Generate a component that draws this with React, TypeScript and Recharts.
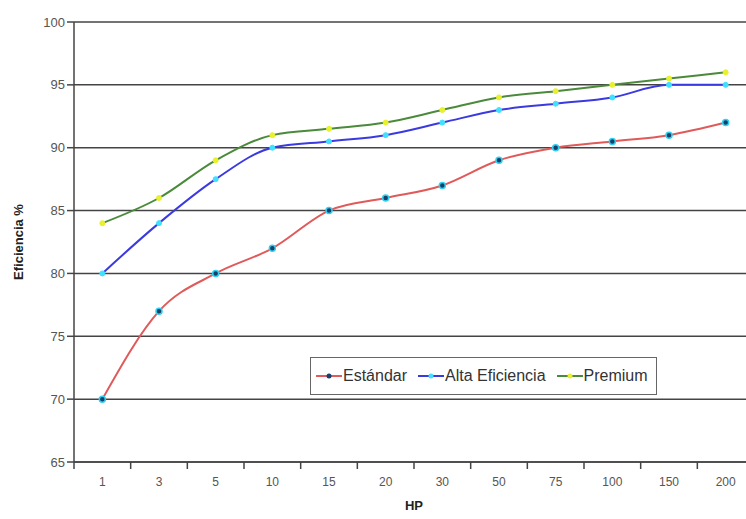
import { LineChart, Line, XAxis, YAxis, CartesianGrid, Label } from 'recharts'

const hp = ['1', '3', '5', '10', '15', '20', '30', '50', '75', '100', '150', '200']
const estandar = [70, 77, 80, 82, 85, 86, 87, 89, 90, 90.5, 91, 92]
const altaEficiencia = [80, 84, 87.5, 90, 90.5, 91, 92, 93, 93.5, 94, 95, 95]
const premium = [84, 86, 89, 91, 91.5, 92, 93, 94, 94.5, 95, 95.5, 96]
const yTicks = [65, 70, 75, 80, 85, 90, 95, 100]

const data = hp.map((h, i) => ({
  hp: h,
  estandar: estandar[i],
  alta: altaEficiencia[i],
  premium: premium[i],
}))

const CHART_W = 754
const PLOT_LEFT = 74
const STEP = (CHART_W - PLOT_LEFT) / hp.length
const FONT = 'Liberation Sans, Arial, sans-serif'

function XTick(props: any) {
  const { x, y, payload } = props
  return (
    <g>
      <line x1={x - STEP / 2} x2={x - STEP / 2} y1={y - 8} y2={y - 1} stroke="#444" strokeWidth={1.5} />
      <text x={x} y={y + 16} textAnchor="middle" fontSize={12} fill="#555" fontFamily={FONT}>
        {payload.value}
      </text>
    </g>
  )
}

const series = [
  { name: 'Estándar', color: '#e05a5a', dot: '#17406a', ring: '#30d0f0' },
  { name: 'Alta Eficiencia', color: '#3a3ae0', dot: '#40e0ff', ring: '#40e0ff' },
  { name: 'Premium', color: '#4a8a3a', dot: '#e8f030', ring: '#e8f030' },
]

function LegendBox() {
  return (
    <div
      style={{
        position: 'absolute',
        left: 310,
        top: 357,
        height: 38,
        boxSizing: 'border-box',
        display: 'flex',
        alignItems: 'center',
        gap: 11,
        background: '#fff',
        border: '1.5px solid #666',
        padding: '0 8px 0 5px',
        fontFamily: FONT,
        fontSize: 16,
        color: '#333',
      }}
    >
      {series.map((s) => (
        <span key={s.name} style={{ display: 'flex', alignItems: 'center' }}>
          <svg width={26} height={8}>
            <line x1={0} x2={26} y1={4} y2={4} stroke={s.color} strokeWidth={2} />
            <circle cx={13} cy={4} r={2.5} fill={s.dot} />
          </svg>
          <span style={{ marginLeft: 1 }}>{s.name}</span>
        </span>
      ))}
    </div>
  )
}

export default function App() {
  return (
    <div style={{ position: 'absolute', left: 0, top: 0, width: 746, height: 519, overflow: 'hidden', background: '#fff' }}>
      <LineChart width={CHART_W} height={519} data={data} margin={{ top: 22, right: 0, left: 30, bottom: 27 }}>
        <CartesianGrid vertical={false} stroke="#444" strokeWidth={1.5} />
        <XAxis
          dataKey="hp"
          scale="band"
          tick={<XTick />}
          tickLine={false}
          axisLine={{ stroke: '#444', strokeWidth: 1.5 }}
          height={30}
        >
          <Label value="HP" position="insideBottom" offset={-18} style={{ fontWeight: 'bold', fontSize: 13, fill: '#222', fontFamily: FONT }} />
        </XAxis>
        <YAxis
          domain={[65, 100]}
          ticks={yTicks}
          width={44}
          axisLine={{ stroke: '#444', strokeWidth: 1.5 }}
          tickLine={{ stroke: '#444', strokeWidth: 1.5 }}
          tickSize={7}
          tick={{ fontSize: 13, fill: '#555', fontFamily: FONT }}
        >
          <Label value="Eficiencia %" angle={-90} position="insideLeft" offset={-12} style={{ textAnchor: 'middle', fontWeight: 'bold', fontSize: 13, fill: '#222', fontFamily: FONT }} />
        </YAxis>
        <Line type="monotone" dataKey="estandar" name="Estándar" stroke={series[0].color} strokeWidth={2} dot={{ r: 3, fill: series[0].dot, stroke: series[0].ring, strokeWidth: 1.5 }} isAnimationActive={false} />
        <Line type="monotone" dataKey="alta" name="Alta Eficiencia" stroke={series[1].color} strokeWidth={2} dot={{ r: 2.5, fill: series[1].dot, stroke: series[1].ring, strokeWidth: 1 }} isAnimationActive={false} />
        <Line type="monotone" dataKey="premium" name="Premium" stroke={series[2].color} strokeWidth={2} dot={{ r: 2.5, fill: series[2].dot, stroke: series[2].ring, strokeWidth: 1 }} isAnimationActive={false} />
      </LineChart>
      <LegendBox />
    </div>
  )
}
